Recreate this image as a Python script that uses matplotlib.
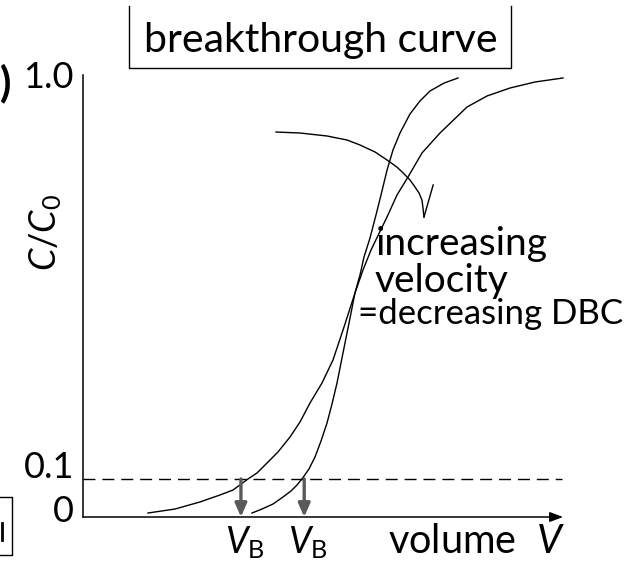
import numpy as np
import matplotlib
matplotlib.use("Agg")
import matplotlib.pyplot as plt
from matplotlib.lines import Line2D

plt.rcParams['font.family'] = ['Lato', 'DejaVu Sans']
plt.rcParams['mathtext.fontset'] = 'custom'
plt.rcParams['mathtext.it'] = 'Lato:italic'
plt.rcParams['mathtext.rm'] = 'Lato'

# ---------------- data ----------------
# low velocity (sharp breakthrough)
volume_low = [3.499, 3.706, 3.934, 4.141, 4.306, 4.431, 4.534, 4.679, 4.803, 4.928,
              5.052, 5.155, 5.259, 5.362, 5.466, 5.549, 5.631, 5.735, 5.818, 5.942,
              6.066, 6.170, 6.294, 6.418, 6.563, 6.770, 6.977, 7.184, 7.474, 7.764]
conc_low = [0.0105, 0.0210, 0.0342, 0.0526, 0.0684, 0.0842, 0.100, 0.1224, 0.1493, 0.1852,
            0.2256, 0.2683, 0.3154, 0.3715, 0.4276, 0.4725, 0.5175, 0.5579, 0.5983, 0.6409,
            0.6925, 0.7374, 0.7929, 0.8384, 0.8765, 0.9192, 0.9484, 0.9708, 0.9885, 1.0]
# high velocity (broad breakthrough)
volume_high = [1.346, 1.905, 2.422, 2.836, 3.106, 3.416, 3.602, 3.810, 4.037, 4.286,
               4.493, 4.700, 4.948, 5.176, 5.404, 5.631, 5.797, 5.963, 6.294, 6.501,
               6.729, 7.019, 7.391, 7.950, 8.364, 8.841, 9.358, 9.938]
conc_high = [0.0105, 0.0210, 0.0395, 0.0579, 0.0710, 0.100, 0.1134, 0.1359, 0.1606, 0.1942,
             0.2279, 0.2706, 0.3154, 0.3670, 0.4411, 0.5175, 0.5690, 0.6139, 0.6880, 0.7374,
             0.7778, 0.8317, 0.8765, 0.9348, 0.9596, 0.9775, 0.9910, 1.0]
# "increasing velocity" arc
arc_volume = [3.996, 4.493, 5.052, 5.466, 5.735, 6.046, 6.294, 6.501, 6.625, 6.770,
              6.874, 6.957, 7.019, 7.039, 7.060]
arc_conc = [0.8787, 0.8765, 0.8698, 0.8608, 0.8496, 0.8339, 0.8160, 0.7999, 0.7872, 0.7711,
            0.7552, 0.7418, 0.7257, 0.7082, 0.6880]
barb_volume = [7.060, 7.25]
barb_conc = [0.6880, 0.760]

threshold = 0.1
vb_positions = [3.27, 4.58]
tick_values = [1.0, 0.1, 0.0]
tick_labels = ['1.0', '0.1', '0']

W, H = 624, 561


def P(x, y):
    return x / W, 1 - y / H


def fwd(y):
    y = np.asarray(y, dtype=float)
    return np.where(y < 0.1, y * 0.866, 0.0866 + (y - 0.1) * (0.9134 / 0.9))


def inv(u):
    u = np.asarray(u, dtype=float)
    return np.where(u < 0.0866, u / 0.866, 0.1 + (u - 0.0866) * (0.9 / 0.9134))


fig = plt.figure(figsize=(W / 100, H / 100), dpi=100)
ax = fig.add_axes([83 / W, (H - 517) / H, (566 - 83) / W, (517 - 75) / H])
ax.set_yscale('function', functions=(fwd, inv))
ax.set_xlim(0, 10)
ax.set_ylim(0, 1.0067)
for s in ['top', 'right', 'bottom']:
    ax.spines[s].set_visible(False)
ax.spines['left'].set_linewidth(1.1)
ax.set_xticks([])
ax.set_yticks([])
ax.yaxis.set_minor_locator(matplotlib.ticker.NullLocator())
ax.patch.set_visible(False)

# x axis arrow
ax.annotate('', xy=(0.994, 0), xytext=(0, 0), xycoords=('axes fraction', 'data'),
            textcoords=('axes fraction', 'data'),
            arrowprops=dict(arrowstyle='-|>,head_length=0.8,head_width=0.3',
                            color='black', lw=1.1, shrinkA=0, shrinkB=0),
            annotation_clip=False)

# threshold dashed line
ax.plot([0, 9.92], [threshold, threshold], color='black', lw=1.0,
        linestyle=(0, (8.6, 5)), clip_on=False)

# curves
line_kw = dict(color='black', lw=1.0, clip_on=False, solid_joinstyle='round')
ax.plot(volume_low, conc_low, **line_kw)
ax.plot(volume_high, conc_high, **line_kw)
ax.plot(arc_volume, arc_conc, **line_kw)
ax.plot(barb_volume, barb_conc, **line_kw)

# V_B arrows
for vb in vb_positions:
    ax.annotate('', xy=(vb, 0), xytext=(vb, threshold),
                arrowprops=dict(arrowstyle='-|>,head_length=0.8,head_width=0.35',
                                color='#595959', lw=2.4, shrinkA=0, shrinkB=0),
                annotation_clip=False)
    ax.annotate(r'$V_\mathrm{B}$', xy=(vb, 0), xytext=(4, -36),
                textcoords='offset pixels', ha='center', va='baseline',
                fontsize=26, annotation_clip=False)

# tick labels
offsets = [0, 11, 6]
for v, lab, dy in zip(tick_values, tick_labels, offsets):
    ax.annotate(lab, xy=(0, v), xytext=(-9, dy), textcoords='offset pixels',
                ha='right', va='center', fontsize=26, annotation_clip=False)

# axis labels
fig.text(*P(46, 232), r'$C/C_0$', rotation=90, ha='center', va='center', fontsize=26)
fig.text(*P(388, 553), r'volume  $V$', ha='left', va='baseline', fontsize=28.5)

# annotations
fig.text(*P(376, 255), 'increasing', ha='left', va='baseline', fontsize=28)
fig.text(*P(375, 292), 'velocity', ha='left', va='baseline', fontsize=28)
fig.text(*P(358, 324), '=decreasing DBC', ha='left', va='baseline', fontsize=25)

# title box
fig.add_artist(Line2D([129 / W, 129 / W, 511 / W, 511 / W],
                      [1 - 6 / H, 1 - 68 / H, 1 - 68 / H, 1 - 6 / H],
                      color='black', lw=1.0))
fig.text(*P(321, 52), 'breakthrough curve', ha='center', va='baseline', fontsize=29.5)

# cropped panel marks at the left edge
fig.text(*P(0, 96), ')', ha='left', va='baseline', fontsize=30, weight='bold')
fig.add_artist(Line2D([0, 12 / W, 12 / W, 0],
                      [1 - 497 / H, 1 - 497 / H, 1 - 555 / H, 1 - 555 / H],
                      color='black', lw=1.0))
fig.add_artist(Line2D([1.5 / W, 1.5 / W], [1 - 523 / H, 1 - 540 / H],
                      color='black', lw=2.0))

fig.savefig('out.png', dpi=100)
